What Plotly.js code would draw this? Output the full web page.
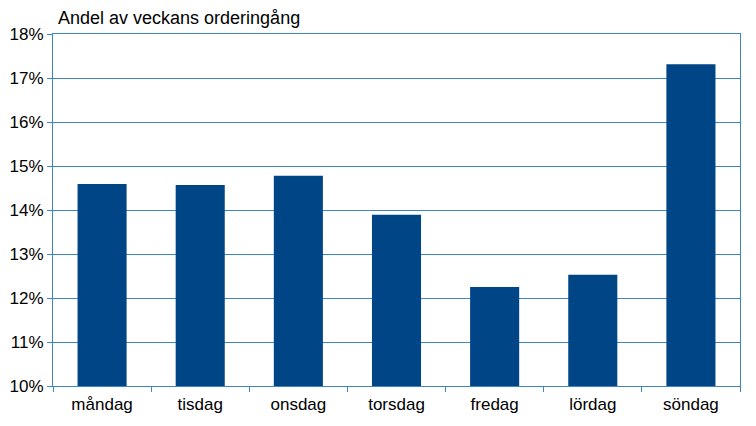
<!DOCTYPE html>
<html>
<head>
<meta charset="utf-8">
<script src="https://cdn.plot.ly/plotly-3.0.1.min.js"></script>
<style>html,body{margin:0;padding:0;background:#fff;}</style>
</head>
<body>
<div id="chart" style="width:756px;height:426px;"></div>
<script>
const days = ["måndag", "tisdag", "onsdag", "torsdag", "fredag", "lördag", "söndag"];
const shares = [14.59, 14.57, 14.78, 13.89, 12.25, 12.53, 17.31];
const yTicks = [10, 11, 12, 13, 14, 15, 16, 17, 18];
const yTickLabels = yTicks.map(v => v + "%");

const axisColor = "#3d86c6";
const fontFam = "Liberation Sans, Arial, sans-serif";

Plotly.newPlot("chart", [{
  type: "bar",
  x: days,
  y: shares,
  marker: {color: "#004586"},
  hoverinfo: "skip"
}], {
  width: 756,
  height: 426,
  margin: {l: 53, r: 16, t: 34, b: 40, pad: 0},
  paper_bgcolor: "#ffffff",
  plot_bgcolor: "#ffffff",
  bargap: 0.5,
  showlegend: false,
  font: {family: fontFam, size: 17, color: "#000"},
  annotations: [{
    text: "Andel av veckans orderingång",
    xref: "paper", yref: "paper",
    x: 0.005, y: 1.0, xanchor: "left", yanchor: "bottom",
    yshift: 4,
    showarrow: false,
    font: {family: fontFam, size: 18, color: "#000"}
  }],
  xaxis: {
    showline: true, linecolor: axisColor, linewidth: 1, mirror: true,
    ticks: "outside", tickson: "boundaries", ticklen: 5, tickcolor: axisColor,
    ticklabelstandoff: 3,
    showgrid: false, zeroline: false,
    tickfont: {family: fontFam, size: 17, color: "#000"}
  },
  yaxis: {
    range: [10, 18],
    tickvals: yTicks, ticktext: yTickLabels,
    showline: true, linecolor: axisColor, linewidth: 1, mirror: true,
    ticks: "outside", ticklen: 5, tickcolor: axisColor,
    showgrid: true, gridcolor: axisColor, gridwidth: 1,
    zeroline: false,
    tickfont: {family: fontFam, size: 17, color: "#000"}
  }
}, {staticPlot: true, displayModeBar: false});
</script>
</body>
</html>
